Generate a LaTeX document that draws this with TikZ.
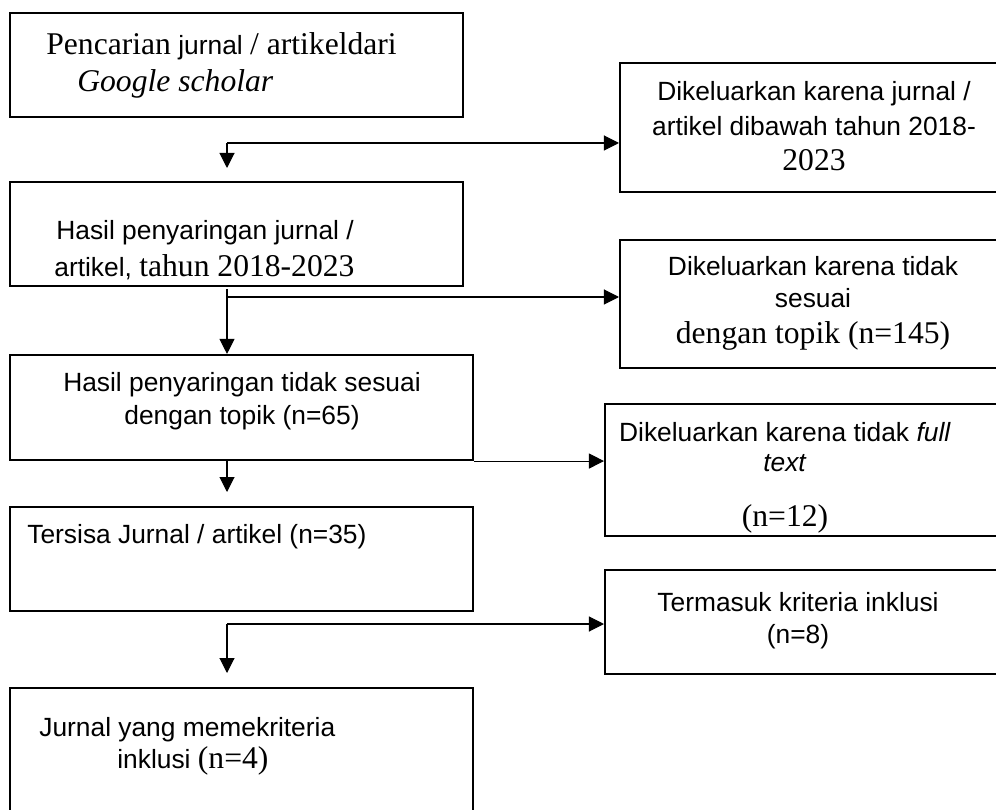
\documentclass[tikz,border=0pt]{standalone}
\usepackage{fontspec}
\setmainfont{Liberation Sans}
\newfontfamily\timesfont{Liberation Serif}
\newcommand\tnr[1]{{\timesfont\fontsize{18}{20}\selectfont #1}}
\usetikzlibrary{arrows.meta}
\begin{document}
\begin{tikzpicture}[x=0.02cm,y=-0.02cm,
>={Triangle[length=0.3cm,width=0.3cm]},
box/.style={draw,rectangle,line width=1.2pt,inner sep=0pt},
txt/.style={inner sep=0pt,font=\fontsize{15}{18}\selectfont},
link/.style={->,line width=0.6pt}]

\useasboundingbox (0,0) rectangle (996,810);
\clip (0,0) rectangle (996,810);

\draw (236.5,65) node[box,minimum width=9.06cm,minimum height=2.08cm] (b1) {};
\draw (236.5,234) node[box,minimum width=9.06cm,minimum height=2.08cm] (b2) {};
\draw (241.5,407.5) node[box,minimum width=9.26cm,minimum height=2.1cm] (b3) {};
\draw (241.5,559) node[box,minimum width=9.26cm,minimum height=2.08cm] (b4) {};
\draw (241.5,754) node[box,minimum width=9.26cm,minimum height=2.64cm] (b5) {};
\draw (812.5,127.5) node[box,minimum width=7.7cm,minimum height=2.58cm] (r1) {};
\draw (812.5,304) node[box,minimum width=7.7cm,minimum height=2.56cm] (r2) {};
\draw (805,470) node[box,minimum width=8cm,minimum height=2.64cm] (r3) {};
\draw (805,622) node[box,minimum width=8cm,minimum height=2.08cm] (r4) {};

\draw (46,55) node[txt,anchor=base west] (b1a) {\tnr{Pencarian} jurnal \tnr{/ artikeldari}};
\draw (77,92) node[txt,anchor=base west] (b1b) {\tnr{\itshape Google scholar}};
\draw (56,240) node[txt,anchor=base west] (b2a) {Hasil penyaringan jurnal /};
\draw (54,277) node[txt,anchor=base west] (b2b) {artikel, \tnr{tahun 2018-2023}};
\draw (242,391) node[txt,anchor=base] (b3a) {Hasil penyaringan tidak sesuai};
\draw (242,424) node[txt,anchor=base] (b3b) {dengan topik (n=65)};
\draw (27,543) node[txt,anchor=base west] (b4a) {Tersisa Jurnal / artikel (n=35)};
\draw (39,736) node[txt,anchor=base west] (b5a) {Jurnal yang memekriteria};
\draw (117,768) node[txt,anchor=base west] (b5b) {inklusi \tnr{(n=4)}};

\draw (814,101) node[txt,anchor=base] (r1a) {Dikeluarkan karena jurnal /};
\draw (814,136) node[txt,anchor=base] (r1b) {artikel dibawah tahun 2018-};
\draw (814,171) node[txt,anchor=base] (r1c) {\tnr{2023}};
\draw (813,276) node[txt,anchor=base] (r2a) {Dikeluarkan karena tidak};
\draw (813,308) node[txt,anchor=base] (r2b) {sesuai};
\draw (813,344) node[txt,anchor=base] (r2c) {\tnr{dengan topik (n=145)}};
\draw (785,441) node[txt,anchor=base] (r3a) {Dikeluarkan karena tidak \textit{full}};
\draw (785,471) node[txt,anchor=base] (r3b) {\textit{text}};
\draw (785,526) node[txt,anchor=base] (r3c) {\tnr{(n=12)}};
\draw (798,611) node[txt,anchor=base] (r4a) {Termasuk kriteria inklusi};
\draw (798,643) node[txt,anchor=base] (r4b) {(n=8)};

\coordinate (j1) at (227,143);
\coordinate (a1) at (227,168);
\coordinate (s2) at (227,289);
\coordinate (j2) at (227,297);
\coordinate (s3) at (227,460);
\coordinate (a3) at (227,492);
\coordinate (j4) at (227,624);
\coordinate (a4) at (227,673);

\draw[link] (j1) -- (j1 -| r1.west);
\draw[link] (j1) -- (a1);
\draw[link] (j2) -- (j2 -| r2.west);
\draw[link] (s2) -- (s2 |- b3.north);
\draw[link] (b3.south east) -- (b3.south east -| r3.west);
\draw[link] (s3) -- (a3);
\draw[link] (j4) -- (j4 -| r4.west);
\draw[link] (j4) -- (a4);
\end{tikzpicture}
\end{document}
